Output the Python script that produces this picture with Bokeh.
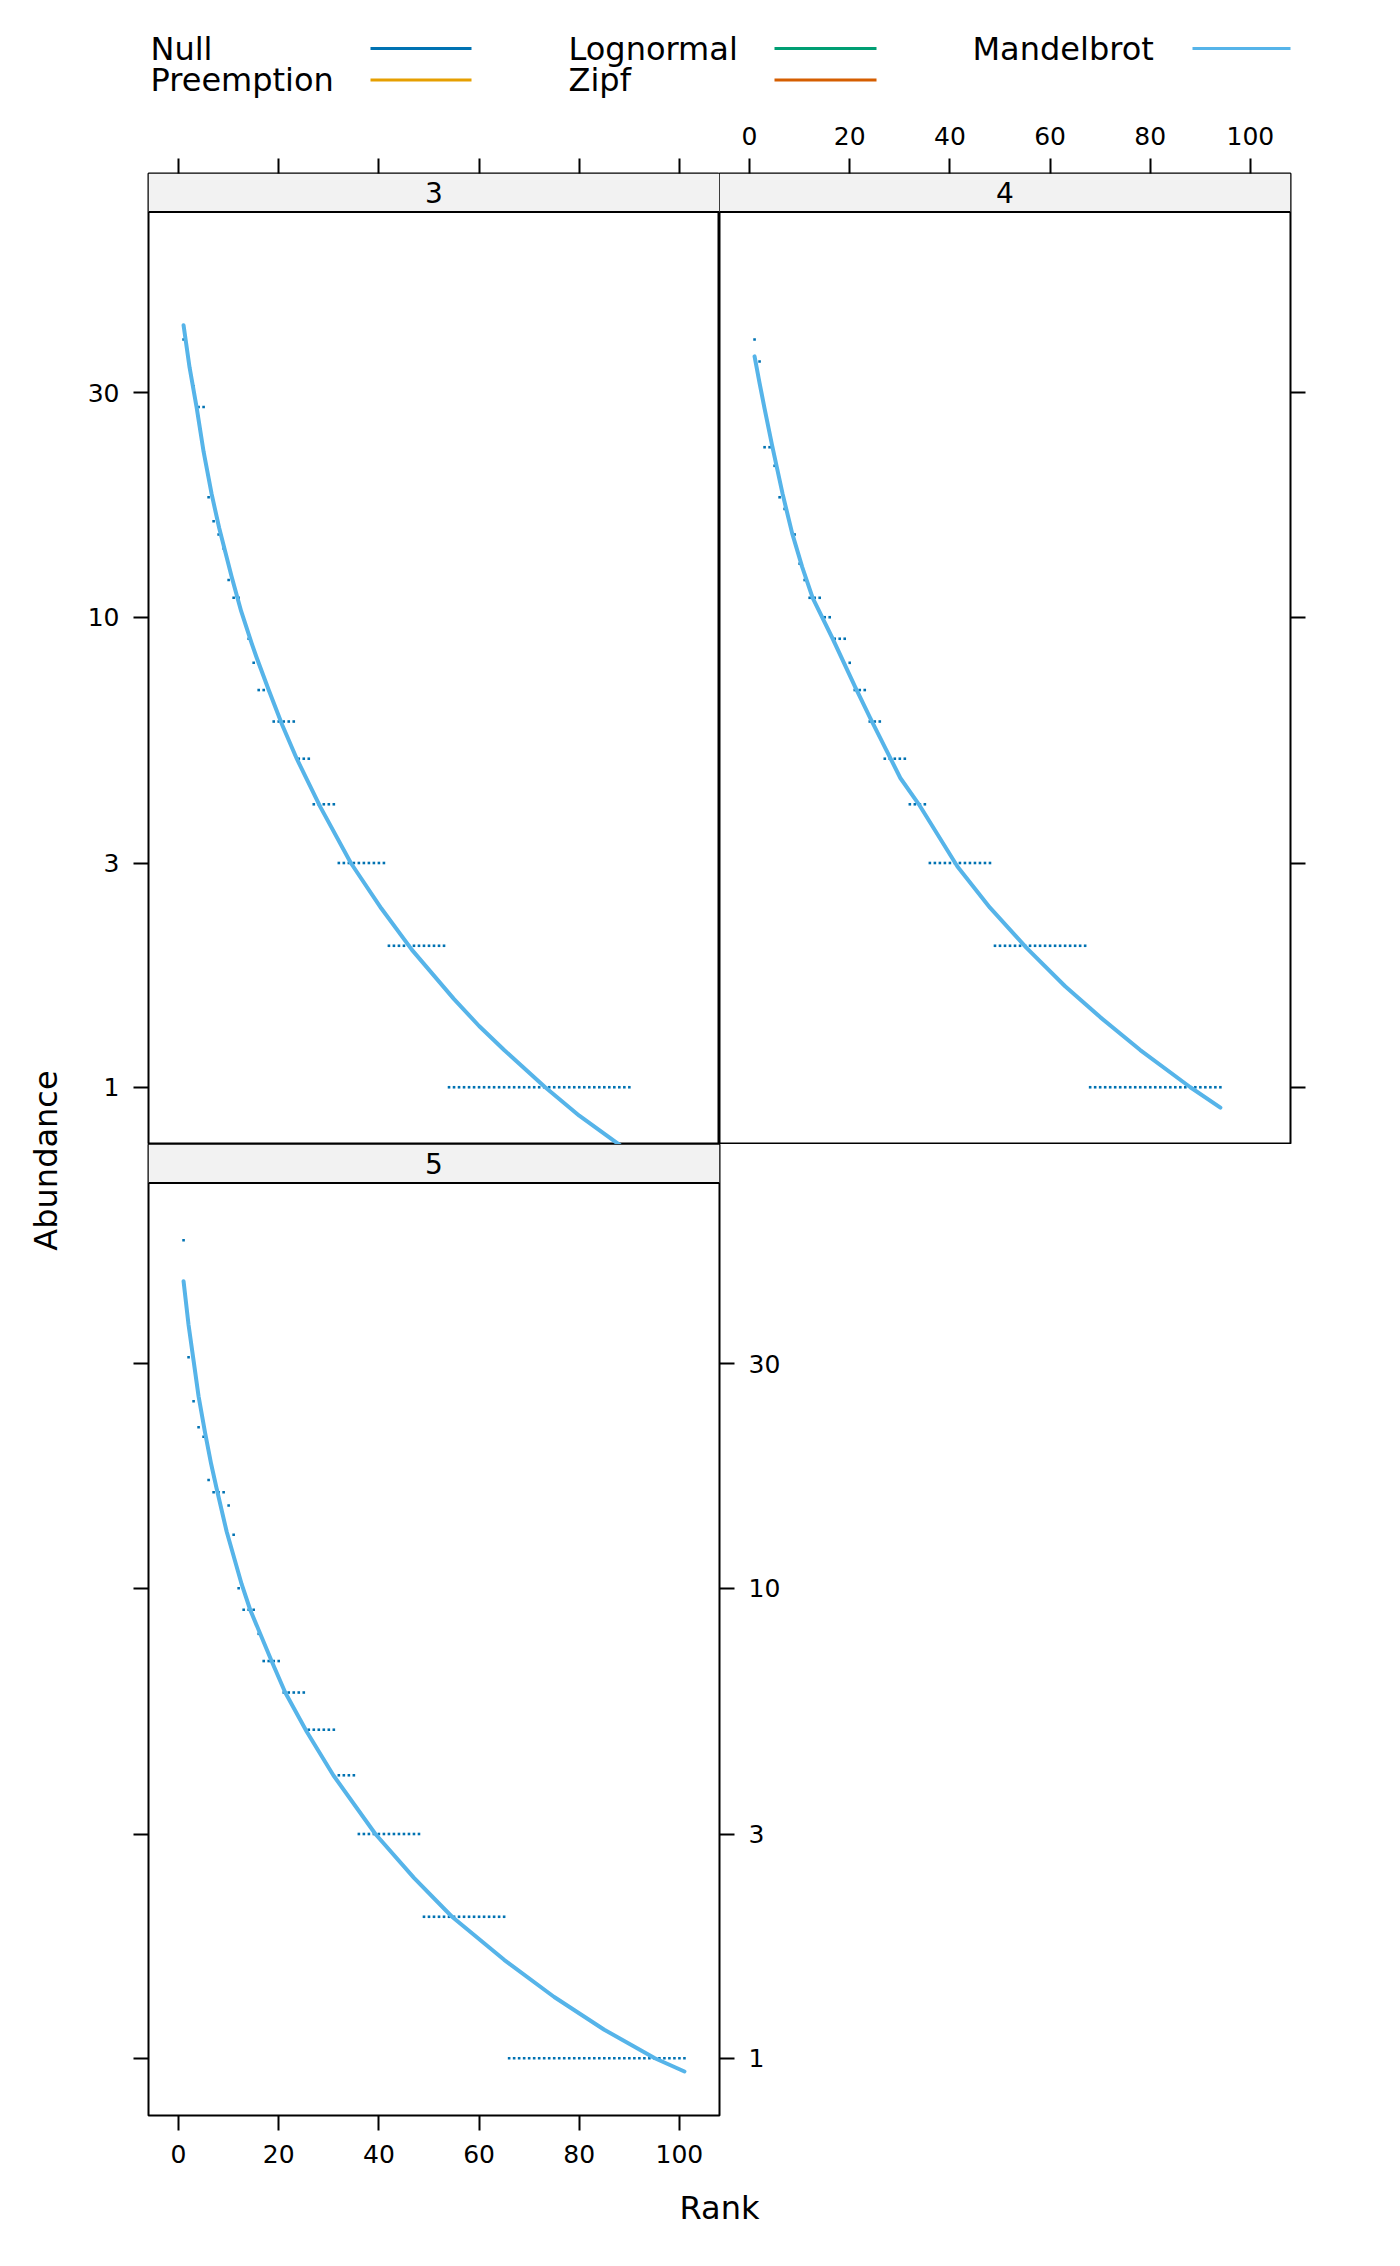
import math
from bokeh.plotting import figure
from bokeh.models import Range1d, FixedTicker, LogAxis, Label, Span
from bokeh.layouts import column, row
from bokeh.embed import file_html
from bokeh.resources import INLINE
from bokeh.core.properties import value

# ---------------- data ----------------
panel_names = ["3", "4", "5"]

# observed abundances, in rank order
abund_3 = [39, 35, 31, 28, 28, 18, 16, 15, 14, 12, 11, 11, 10, 9, 8, 7, 7, 7,
           6, 6, 6, 6, 6, 5, 5, 5, 4, 4, 4, 4, 4,
           3, 3, 3, 3, 3, 3, 3, 3, 3, 3,
           2, 2, 2, 2, 2, 2, 2, 2, 2, 2, 2, 2,
           1, 1, 1, 1, 1, 1, 1, 1, 1, 1, 1, 1, 1, 1, 1, 1, 1, 1, 1, 1,
           1, 1, 1, 1, 1, 1, 1, 1, 1, 1, 1, 1, 1, 1, 1, 1, 1]
abund_4 = [39, 35, 23, 23, 21, 18, 17, 16, 15, 13, 12, 11, 11, 11, 10, 10, 9, 9, 9, 8,
           7, 7, 7, 6, 6, 6, 5, 5, 5, 5, 5, 4, 4, 4, 4,
           3, 3, 3, 3, 3, 3, 3, 3, 3, 3, 3, 3, 3,
           2, 2, 2, 2, 2, 2, 2, 2, 2, 2, 2, 2, 2, 2, 2, 2, 2, 2, 2,
           1, 1, 1, 1, 1, 1, 1, 1, 1, 1, 1, 1, 1, 1, 1, 1, 1, 1, 1, 1,
           1, 1, 1, 1, 1, 1, 1]
abund_5 = [55, 31, 25, 22, 21, 17, 16, 16, 16, 15, 13, 10, 9, 9, 9, 8,
           7, 7, 7, 7, 6, 6, 6, 6, 6, 5, 5, 5, 5, 5, 5, 4, 4, 4, 4,
           3, 3, 3, 3, 3, 3, 3, 3, 3, 3, 3, 3, 3,
           2, 2, 2, 2, 2, 2, 2, 2, 2, 2, 2, 2, 2, 2, 2, 2, 2,
           1, 1, 1, 1, 1, 1, 1, 1, 1, 1, 1, 1, 1, 1, 1, 1, 1, 1, 1, 1,
           1, 1, 1, 1, 1, 1, 1, 1, 1, 1, 1, 1, 1, 1, 1, 1]

# fitted Mandelbrot curve, read at points along the drawn line
fit_rank_3 = [1.0, 2.2, 3.6, 5.0, 6.6, 8.1, 10.6, 12.5, 14.6, 15.6, 18.0, 20.7, 23.6,
              28.3, 34.4, 40.5, 46.6, 55.0, 60.0, 65.0, 73.2, 80.0, 88.2, 90.0]
fit_abund_3 = [41.8, 34.0, 28.0, 22.5, 18.3, 15.5, 12.2, 10.3, 8.8, 8.2, 7.0, 5.9, 5.0,
               3.95, 3.0, 2.4, 1.96, 1.54, 1.35, 1.2, 1.0, 0.87, 0.752, 0.73]
fit_rank_4 = [1.0, 2.0, 3.0, 4.5, 6.6, 7.8, 8.5, 10.5, 12.6, 16.6, 21.1, 24.1, 30.1, 33.8,
              41.5, 48.0, 55.3, 63.0, 70.0, 78.0, 88.0, 94.0]
fit_abund_4 = [35.9, 31.5, 27.8, 23.2, 18.3, 16.2, 15.1, 12.8, 11.0, 9.0, 7.1, 6.1, 4.55, 4.0,
               2.95, 2.41, 1.98, 1.64, 1.41, 1.2, 1.0, 0.905]
fit_rank_5 = [1.0, 2.0, 3.0, 4.0, 5.3, 6.5, 7.6, 9.6, 12.6, 14.3, 18.7, 21.3, 25.6,
              30.9, 39.3, 47.0, 54.6, 65.0, 75.0, 85.0, 95.1, 101.0]
fit_abund_5 = [45.0, 36.3, 30.5, 25.6, 21.4, 18.4, 16.3, 13.2, 10.2, 9.0, 6.95, 6.0, 4.95,
               4.0, 3.0, 2.42, 2.0, 1.62, 1.35, 1.15, 1.0, 0.937]

model_names = ["Null", "Preemption", "Lognormal", "Zipf", "Mandelbrot"]
model_colors = ["#0072B2", "#E69F00", "#009E73", "#D55E00", "#56B4E9"]

x_ticks = [0, 20, 40, 60, 80, 100]
y_ticks = [1, 3, 10, 30]

# ---------------- styling / layout ----------------
FONT = "DejaVu Sans"
TICK_FS = "25px"
TEXT_FS = "32px"
STRIP_FS = "28px"
POINT_COLOR = "#0072B2"
STRIP_FILL = "#F2F2F2"

XLIM = (-6.0, 108.0)
LOG_LO, LOG_HI = -0.1218, 1.8622
FRAME_W, FRAME_H = 571, 971
STRIP_H = 38.5
dec_per_px = (LOG_HI - LOG_LO) / (FRAME_H - STRIP_H)
LOG_TOP = LOG_HI + STRIP_H * dec_per_px

LEG_H = 108
LEFT_B = 80
TOP_B = 65
YLAB_W = 68
BOT_B = 70
XLAB_H = 60


def style_axis(ax, labels, ticks):
    ax.ticker = FixedTicker(ticks=ticks, minor_ticks=[])
    ax.axis_line_color = None
    ax.major_tick_in = 0
    ax.major_tick_out = 15
    ax.major_tick_line_width = 2
    ax.major_tick_line_color = "black"
    ax.minor_tick_line_color = None
    ax.major_label_text_font = FONT
    ax.major_label_text_font_size = TICK_FS
    ax.major_label_text_color = "black"
    ax.major_label_standoff = 14
    ax.major_label_orientation = "horizontal"
    if labels:
        ax.major_label_overrides = {t: str(t) for t in ticks}
    else:
        ax.major_label_overrides = {t: "" for t in ticks}


def make_panel(name, abund, fit_r, fit_a, width, height, borders, xloc, yloc,
               xlabels, ylabels, right_labels=False):
    bl, br, bt, bb = borders
    p = figure(width=width, height=height,
               x_range=Range1d(*XLIM),
               y_range=Range1d(10 ** LOG_LO, 10 ** LOG_TOP),
               y_axis_type="log",
               x_axis_location=xloc, y_axis_location=yloc,
               min_border_left=bl, min_border_right=br,
               min_border_top=bt, min_border_bottom=bb,
               output_backend="svg", toolbar_location=None)
    p.grid.visible = False
    p.outline_line_color = "black"
    p.outline_line_width = 2
    p.background_fill_color = "white"
    p.border_fill_color = "white"
    for ax in p.xaxis:
        style_axis(ax, xlabels, x_ticks)
    for ax in p.yaxis:
        style_axis(ax, ylabels, y_ticks)
    if right_labels:
        ra = LogAxis()
        style_axis(ra, True, y_ticks)
        p.add_layout(ra, "right")

    # strip
    p.quad(left=[XLIM[0]], right=[XLIM[1]], bottom=[10 ** LOG_HI], top=[10 ** LOG_TOP],
           fill_color=STRIP_FILL, line_color=None)
    p.add_layout(Span(location=10 ** LOG_HI, dimension="width",
                      line_color="black", line_width=2))
    p.add_layout(Label(x=(XLIM[0] + XLIM[1]) / 2, y=10 ** ((LOG_HI + LOG_TOP) / 2),
                       text=name, text_align="center", text_baseline="middle",
                       text_font=FONT, text_font_size=STRIP_FS, text_color="black"))

    ranks = list(range(1, len(abund) + 1))
    p.scatter(ranks, abund, marker="square", size=2.6, fill_color=POINT_COLOR,
              line_color=None)
    p.line(fit_r, fit_a, line_color=model_colors[4], line_width=4,
           line_join="round", line_cap="round")
    return p


p3 = make_panel(panel_names[0], abund_3, fit_rank_3, fit_abund_3,
                LEFT_B + FRAME_W, TOP_B + FRAME_H, (LEFT_B, 0, TOP_B, 0),
                "above", "left", xlabels=False, ylabels=True)
p4 = make_panel(panel_names[1], abund_4, fit_rank_4, fit_abund_4,
                FRAME_W + 60, TOP_B + FRAME_H, (0, 60, TOP_B, 0),
                "above", "right", xlabels=True, ylabels=False)
p5 = make_panel(panel_names[2], abund_5, fit_rank_5, fit_abund_5,
                LEFT_B + FRAME_W + 100, FRAME_H + BOT_B, (LEFT_B, 100, 0, BOT_B),
                "below", "left", xlabels=True, ylabels=False, right_labels=True)

# y-axis title column
YLAB_H = TOP_B + FRAME_H + FRAME_H + BOT_B
ylab = figure(width=YLAB_W, height=YLAB_H, x_axis_location=None, y_axis_location=None,
              min_border=0, output_backend="svg", toolbar_location=None)
ylab.grid.visible = False
ylab.outline_line_color = None
ylab.add_layout(Label(x=45, y=YLAB_H - (1160 - LEG_H), x_units="screen", y_units="screen",
                      text="Abundance", angle=math.pi / 2, text_align="center",
                      text_baseline="middle", text_font=FONT, text_font_size=TEXT_FS,
                      text_color="black"))

TOTAL_W = YLAB_W + LEFT_B + 2 * FRAME_W + 60

# x-axis title strip
xlab = figure(width=TOTAL_W, height=XLAB_H, x_axis_location=None, y_axis_location=None,
              min_border=0, output_backend="svg", toolbar_location=None)
xlab.grid.visible = False
xlab.outline_line_color = None
xlab.add_layout(Label(x=YLAB_W + LEFT_B + FRAME_W, y=XLAB_H - 22, x_units="screen",
                      y_units="screen", text="Rank", text_align="center",
                      text_baseline="middle", text_font=FONT, text_font_size=TEXT_FS,
                      text_color="black"))

# legend (key) across the top
leg = figure(width=TOTAL_W, height=LEG_H, x_range=Range1d(0, TOTAL_W),
             y_range=Range1d(LEG_H, 0), x_axis_location=None, y_axis_location=None,
             min_border=0, output_backend="svg", toolbar_location=None)
leg.grid.visible = False
leg.outline_line_color = None
col_text_x = [150, 568, 972]
col_line_x = [(370, 471), (774, 876), (1192, 1290)]
row_y = [48, 79.5]
tx, ty, lx0, lx1, ly = [], [], [], [], []
for i, nm in enumerate(model_names):
    c, r = divmod(i, 2)
    tx.append(col_text_x[c])
    ty.append(row_y[r])
    lx0.append(col_line_x[c][0])
    lx1.append(col_line_x[c][1])
    ly.append(row_y[r])
leg.text(x=tx, y=ty, text=model_names, text_font=value(FONT), text_font_size=TEXT_FS,
         text_baseline="middle", text_align="left", text_color="black")
leg.segment(x0=lx0, y0=ly, x1=lx1, y1=ly, line_color=model_colors, line_width=3)

layout = column(leg, row(ylab, column(row(p3, p4), p5)), xlab)
open("out.html", "w").write(file_html(layout, INLINE))
